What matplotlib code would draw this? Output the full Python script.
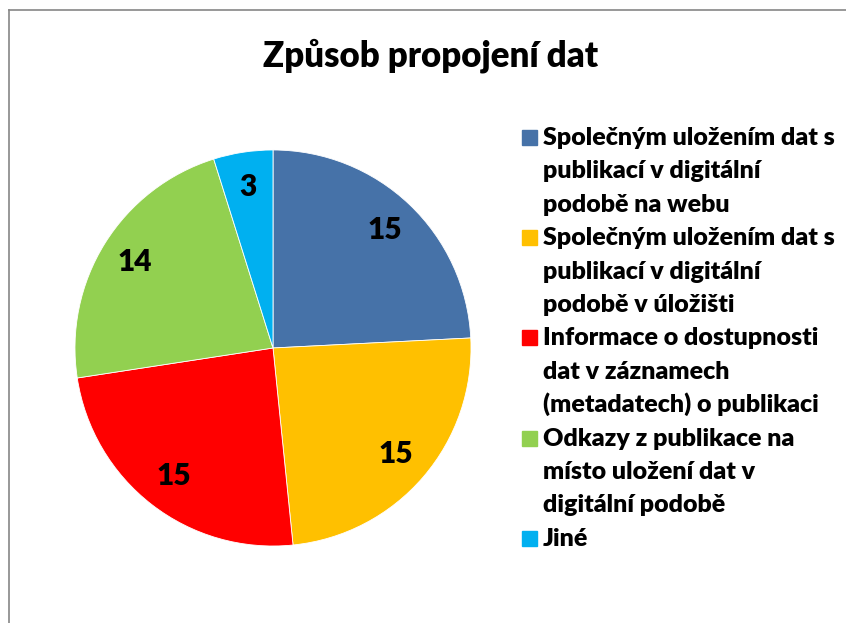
import matplotlib.pyplot as plt
from matplotlib.patches import Rectangle

# data
labels = ["Společným uložením dat s\npublikací v digitální\npodobě na webu",
          "Společným uložením dat s\npublikací v digitální\npodobě v úložišti",
          "Informace o dostupnosti\ndat v záznamech\n(metadatech) o publikaci",
          "Odkazy z publikace na\nmísto uložení dat v\ndigitální podobě",
          "Jiné"]
values = [15, 15, 15, 14, 3]
colors = ["#4672A8", "#FFC000", "#FF0000", "#92D050", "#00B0F0"]
title = "Způsob propojení dat"

W, H = 846, 623
plt.rcParams['font.family'] = ['Lato', 'DejaVu Sans']
fig = plt.figure(figsize=(W / 100, H / 100), dpi=100)

# gray frame (only left/top visible in the original)
fig.add_artist(plt.Line2D([9 / W, 9 / W], [0, 1 - 10 / H], color='#868686', lw=1.2))
fig.add_artist(plt.Line2D([9 / W, 1], [1 - 10 / H, 1 - 10 / H], color='#868686', lw=1.2))

# pie: center (273, 348), radius 200 px
cx, cy, r = 273, 348, 200
ax = fig.add_axes([(cx - r) / W, 1 - (cy + r) / H, 2 * r / W, 2 * r / H])
ax.pie(values, colors=colors, startangle=90, counterclock=False,
       autopct=lambda p: '%d' % round(p * sum(values) / 100), pctdistance=0.82,
       wedgeprops=dict(edgecolor='white', linewidth=0.6),
       textprops=dict(fontsize=21.5, fontweight='heavy', color='black'))
ax.set_xlim(-1.01, 1.01)
ax.set_ylim(-1.01, 1.01)

fig.text(431 / W, 1 - 56 / H, title, ha='center', va='center',
         fontsize=25, fontweight='heavy')

# legend drawn line by line so the marker sits at the first line
k = 0
for lab, col in zip(labels, colors):
    lines = lab.split('\n')
    base = 145 + k * 33.4
    fig.add_artist(Rectangle((522 / W, 1 - base / H), 15 / W, 15 / H,
                             transform=fig.transFigure, color=col))
    for j, ln in enumerate(lines):
        fig.text(543 / W, 1 - (145 + (k + j) * 33.4) / H, ln, ha='left',
                 va='baseline', fontsize=18, fontweight='heavy')
    k += len(lines)

fig.savefig('out.png', dpi=100)
